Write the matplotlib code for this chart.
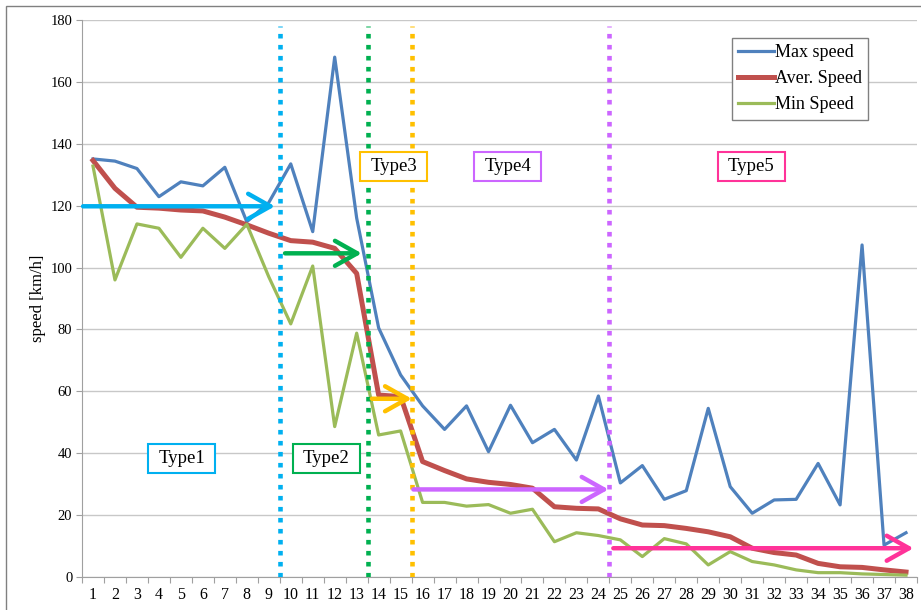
import matplotlib
matplotlib.use("Agg")
import matplotlib.pyplot as plt
from matplotlib.patches import Rectangle

plt.rcParams['font.family'] = ['Liberation Serif', 'DejaVu Serif']

categories = list(range(1, 39))
max_speed = [135.1, 134.4, 132.0, 122.9, 127.7, 126.4, 132.4, 114.8, 121.0, 133.5,
             111.6, 168.0, 116.0, 80.5, 65.3, 55.3, 47.7, 55.3, 40.5, 55.5,
             43.4, 47.7, 37.8, 58.5, 30.4, 36.0, 25.1, 27.9, 54.5, 29.2,
             20.6, 24.9, 25.1, 36.7, 23.3, 107.3, 10.3, 14.3]
avg_speed = [134.6, 125.6, 119.5, 119.2, 118.6, 118.3, 116.3, 113.8, 111.1, 108.7,
             108.2, 106.2, 98.1, 58.8, 58.3, 37.3, 34.4, 31.7, 30.6, 29.9,
             28.7, 22.7, 22.2, 22.0, 18.8, 16.8, 16.6, 15.7, 14.6, 13.0,
             9.3, 7.9, 7.1, 4.4, 3.3, 3.1, 2.3, 1.6]
min_speed = [132.8, 96.0, 114.1, 112.7, 103.3, 112.7, 106.2, 114.0, 97.0, 81.8,
             100.5, 48.6, 78.8, 45.9, 47.2, 24.1, 24.1, 22.9, 23.4, 20.6,
             21.9, 11.4, 14.3, 13.4, 12.0, 6.6, 12.4, 10.7, 3.9, 8.2,
             5.0, 3.9, 2.3, 1.4, 1.4, 1.0, 0.8, 0.6]
series_labels = ["Max speed", "Aver. Speed", "Min Speed"]
y_ticks = [0, 20, 40, 60, 80, 100, 120, 140, 160, 180]

# segment boundaries (between categories) and type annotations
boundaries = [9.5, 13.5, 15.5, 24.5]
boundary_colors = ['#00B0F0', '#00B050', '#FFC000', '#CC66FF']
type_names = ["Type1", "Type2", "Type3", "Type4", "Type5"]
type_colors = ['#00B0F0', '#00B050', '#FFC000', '#CC66FF', '#FF3399']
type_pos = [(5.05, 38.3), (11.61, 38.3), (14.68, 132.7), (19.87, 132.7), (30.95, 132.7)]
arrow_start = [(0.55, 119.8), (9.74, 104.6), (13.69, 57.6), (15.58, 28.3), (24.68, 9.3)]
arrow_end = [(9.28, 119.8), (13.23, 104.6), (15.51, 57.6), (24.46, 28.3), (38.34, 9.3)]

W, H = 921, 610
fig = plt.figure(figsize=(W / 100, H / 100), dpi=100)
ax = fig.add_axes([82 / W, 1 - 577 / H, (917 - 82) / W, (577 - 20) / H])

# outer frame
fig.patches.append(Rectangle((6 / W, -0.05), 1.1, 1 - 6 / H + 0.05, transform=fig.transFigure,
                             fill=False, edgecolor='#808080', lw=1.0, zorder=0))

ax.set_xlim(0.5, 38.5)
ax.set_ylim(0, 180)
ax.set_yticks(y_ticks)
ax.yaxis.grid(True, color='#c8c8c8', lw=1.0)
ax.set_axisbelow(True)
for s in ['top', 'right']:
    ax.spines[s].set_visible(False)
for s in ['left', 'bottom']:
    ax.spines[s].set_color('#a0a0a0')
ax.set_xticks([b + 0.5 for b in range(0, 39)])
ax.set_xticklabels([])
ax.set_xticks(categories, minor=True)
ax.set_xticklabels([str(c) for c in categories], minor=True)
ax.tick_params(axis='x', which='major', length=4, color='#a0a0a0')
ax.tick_params(axis='x', which='minor', length=0, labelsize=11.5, pad=7)
ax.tick_params(axis='y', length=4, color='#a0a0a0', labelsize=10.5, pad=3)
ax.set_ylabel("speed [km/h]", fontsize=12, labelpad=3)

l1, = ax.plot(categories, max_speed, color='#4F81BD', lw=2.3, zorder=3)
l2, = ax.plot(categories, avg_speed, color='#C0504D', lw=3.6, zorder=3)
l3, = ax.plot(categories, min_speed, color='#9BBB59', lw=2.3, zorder=3)

for b, c in zip(boundaries, boundary_colors):
    ax.plot([b, b], [0, 178], color=c, lw=3.3, linestyle=(0, (1, 1.4)), zorder=4)

for (xs, ys), (xe, ye), c in zip(arrow_start, arrow_end, type_colors):
    ax.annotate('', xy=(xe, ye), xytext=(xs, ys), zorder=5, annotation_clip=False,
                arrowprops=dict(arrowstyle='->,head_length=0.8,head_width=0.45',
                                color=c, lw=3.2, shrinkA=0, shrinkB=0,
                                mutation_scale=20))

bw, bh = 67 / 21.97, 29 / 3.094
for name, c, (x, y) in zip(type_names, type_colors, type_pos):
    ax.add_patch(Rectangle((x - bw / 2, y - bh / 2), bw, bh, facecolor='white',
                           edgecolor=c, lw=1.5, zorder=6))
    ax.text(x, y, name, ha='center', va='center', fontsize=13.5, zorder=7)

leg = fig.legend([l1, l2, l3], series_labels, loc='upper left',
                 bbox_to_anchor=(732 / W, 1 - 38 / H), fontsize=13,
                 handlelength=1.95, handletextpad=0.08, labelspacing=0.5,
                 borderpad=0.35, borderaxespad=0, fancybox=False,
                 edgecolor='#808080', framealpha=1)
leg.get_frame().set_linewidth(1.0)

fig.savefig('out.png', dpi=100)
